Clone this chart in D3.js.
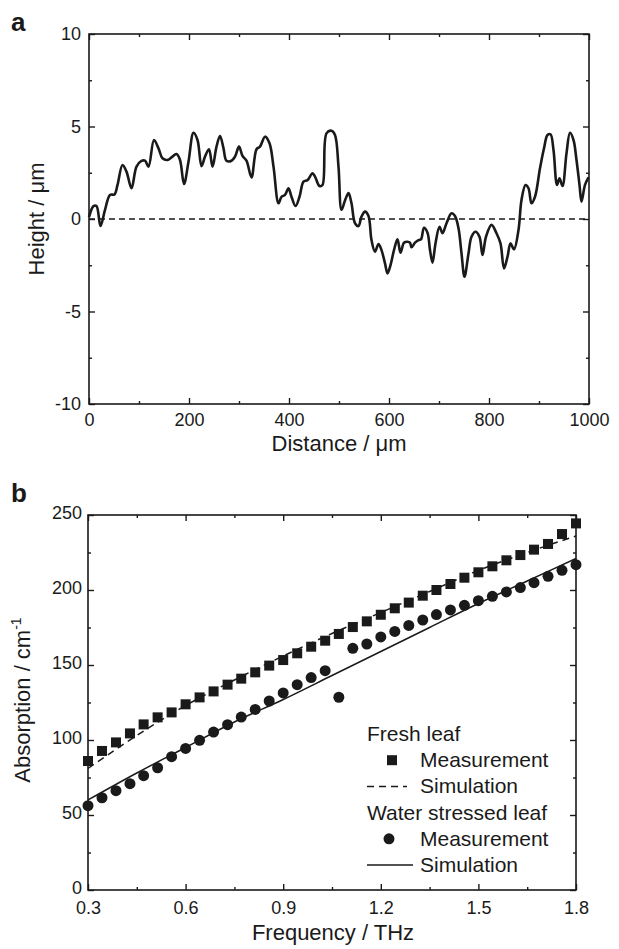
<!DOCTYPE html>
<html><head><meta charset="utf-8">
<script src="https://cdn.jsdelivr.net/npm/d3@7"></script>
<style>
body{margin:0;background:#fff;}
text{font-family:"Liberation Sans",Arial,Helvetica,sans-serif;fill:#1a1a1a;}
</style></head>
<body><svg id="c" width="619" height="949"></svg>
<script>
// ---------- Panel a data ----------
const distance = [0,9,15,23,32,42,51,57,67,75,85,95,105,112,119,130,139,147,157,165,175,182,190,199,209,217,225,232,240,247,255,262,269,275,285,292,300,307,315,325,335,342,352,361,369,379,385,392,399,405,413,421,429,437,447,452,461,467,475,485,492,499,505,512,519,525,532,539,545,552,559,565,572,579,585,592,597,603,610,617,623,630,637,642,645,652,659,664,670,677,682,687,693,701,707,715,725,732,739,745,751,759,765,773,781,787,794,805,815,823,830,837,843,850,859,865,873,879,885,892,902,910,917,923,929,936,941,947,955,962,969,975,981,985,992,999];
const height = [0.1,0.7,0.7,-0.38,0.49,1.3,1.33,1.84,2.92,2.56,1.66,2.83,3.14,3.15,2.83,4.27,3.82,3.28,3.19,3.33,3.51,3.19,1.89,3.1,4.66,4.27,2.86,3.37,3.77,2.83,3.91,4.49,3.82,3.15,3.15,3.37,3.91,3.41,3.15,2.25,3.77,3.91,4.45,4.09,2.83,0.85,1.2,1.3,1.66,1.2,0.7,1.2,2.02,2.1,2.47,2.29,1.78,1.84,4.63,4.77,4.54,2.83,0.5,1.0,1.4,0.85,-0.23,-0.38,0.13,0.4,0.16,-1.14,-1.77,-1.35,-1.68,-2.4,-2.94,-2.49,-1.68,-1.1,-1.82,-1.28,-1.23,-1.28,-1.53,-1.28,-1.14,-1.1,-0.47,-0.74,-1.68,-2.36,-1.32,-0.42,-0.77,-0.23,0.31,0.16,-0.5,-1.86,-3.12,-1.86,-0.96,-0.69,-0.96,-1.95,-0.96,-0.32,-0.77,-1.32,-2.67,-2.04,-1.32,-1.64,-0.59,1.03,1.84,1.66,0.85,1.2,2.74,3.82,4.54,4.58,3.73,1.84,2.2,1.78,3.55,4.66,4.27,3.19,1.84,0.94,1.84,2.25];
const aXTicks = [0,200,400,600,800,1000];
const aXMinor = [100,300,500,700,900];
const aYTicks = [-10,-5,0,5,10];
const aYMinor = [-7.5,-2.5,2.5,7.5];

// ---------- Panel b data ----------
const frequency = [0.3,0.343,0.386,0.429,0.471,0.514,0.557,0.6,0.643,0.686,0.729,0.771,0.814,0.857,0.9,0.943,0.986,1.029,1.071,1.114,1.157,1.2,1.243,1.286,1.329,1.371,1.414,1.457,1.5,1.543,1.586,1.629,1.671,1.714,1.757,1.8];
const freshMeas = [86,92.7,98.4,104.4,110.4,115.1,118.4,123.8,128.4,132.4,136.9,140.9,145.1,149.6,153.3,157.8,162.2,166.2,170.7,175.3,179.1,183.5,187.8,191.6,196.2,200,204,208.2,211.8,215.8,219.8,223.3,226.9,230.7,237.3,244.4];
const stressedMeas = [56.2,61.5,66.2,70.9,76.2,81.5,88.9,94.4,99.8,105.3,110.2,115.3,120.4,126,131.4,136.9,141.6,146.2,128.5,161.1,164,168.7,172.4,176.4,180,183.6,186.7,189.8,192.9,195.8,198.7,201.6,204.9,209.1,213.1,216.9];
const simFreq = [0.3,0.45,0.6,0.75,0.9,1.05,1.2,1.35,1.5,1.65,1.8];
const freshSim = [81,103,123,140,156,171,185,199,213,225,236];
const stressedSim = [60,78,95,112,127,143,159,175,191,206,221];
const bXTicks = [0.3,0.6,0.9,1.2,1.5,1.8];
const bXMinor = [0.45,0.75,1.05,1.35,1.65];
const bYTicks = [0,50,100,150,200,250];
const bYMinor = [25,75,125,175,225];
const legendGroups = ["Fresh leaf","Water stressed leaf"];
const legendItems = ["Measurement","Simulation"];

const svg = d3.select("#c");
const ink = "#1a1a1a";
const hyph = f => v => f(v).replace("\u2212","-");

function frame(g, x, y, xt, xm, yt, ym, xfmt, yfmt, ypad, xpad, ydy){
  const [x0,x1] = x.range(), [y0,y1] = y.range();
  g.append("g").attr("transform",`translate(0,${y0})`)
    .call(d3.axisBottom(x).tickValues(xt).tickSize(-6).tickPadding(xpad).tickFormat(xfmt));
  g.append("g").attr("transform",`translate(0,${y0})`)
    .call(d3.axisBottom(x).tickValues(xm).tickSize(-3).tickFormat(""));
  g.append("g").attr("transform",`translate(0,${y1})`)
    .call(d3.axisTop(x).tickValues(xt).tickSize(-6).tickFormat(""));
  g.append("g").attr("transform",`translate(0,${y1})`)
    .call(d3.axisTop(x).tickValues(xm).tickSize(-3).tickFormat(""));
  const yl = g.append("g").attr("transform",`translate(${x0},0)`)
    .call(d3.axisLeft(y).tickValues(yt).tickSize(-6).tickPadding(ypad).tickFormat(yfmt));
  yl.selectAll(".tick text").attr("dy",ydy);
  g.append("g").attr("transform",`translate(${x0},0)`)
    .call(d3.axisLeft(y).tickValues(ym).tickSize(-3).tickFormat(""));
  g.append("g").attr("transform",`translate(${x1},0)`)
    .call(d3.axisRight(y).tickValues(yt).tickSize(-6).tickFormat(""));
  g.append("g").attr("transform",`translate(${x1},0)`)
    .call(d3.axisRight(y).tickValues(ym).tickSize(-3).tickFormat(""));
  g.selectAll(".domain").remove();
  g.selectAll(".tick line").attr("stroke",ink).attr("stroke-width",1.4);
  g.selectAll(".tick text").attr("font-size","18px").attr("fill",ink)
    .attr("font-family",'"Liberation Sans",Arial,sans-serif');
  g.append("rect").attr("x",x0).attr("y",y1).attr("width",x1-x0).attr("height",y0-y1)
    .attr("fill","none").attr("stroke",ink).attr("stroke-width",1.6);
}

// ---------- Panel a ----------
const ax = d3.scaleLinear().domain([0,1000]).range([89,589]);
const ay = d3.scaleLinear().domain([-10,10]).range([404,34]);
const ga = svg.append("g");
ga.append("line").attr("x1",ax(0)).attr("x2",ax(1000)).attr("y1",ay(0)).attr("y2",ay(0))
  .attr("stroke",ink).attr("stroke-width",1.5).attr("stroke-dasharray","6,4");
ga.append("path").datum(distance.map((d,i)=>[d,height[i]]))
  .attr("fill","none").attr("stroke",ink).attr("stroke-width",2.6).attr("stroke-linejoin","round")
  .attr("d",d3.line().x(d=>ax(d[0])).y(d=>ay(d[1])).curve(d3.curveCatmullRom.alpha(0.5)));
frame(ga, ax, ay, aXTicks, aXMinor, aYTicks, aYMinor, hyph(d3.format("d")), hyph(d3.format("d")), 8, 9, "0.32em");
ga.append("text").attr("x",339).attr("y",451).attr("text-anchor","middle").attr("font-size","22px").text("Distance / μm");
ga.append("text").attr("transform","translate(44,219) rotate(-90)").attr("text-anchor","middle").attr("font-size","22px").text("Height / μm");
ga.append("text").attr("x",11).attr("y",31).attr("font-size","26px").attr("font-weight","bold").text("a");

// ---------- Panel b ----------
const bx = d3.scaleLinear().domain([0.3,1.8]).range([88,576]);
const by = d3.scaleLinear().domain([0,250]).range([890,515]);
const gb = svg.append("g");
const pl = gb.append("g");
pl.append("path").datum(simFreq.map((d,i)=>[d,freshSim[i]]))
  .attr("fill","none").attr("stroke",ink).attr("stroke-width",1.5).attr("stroke-dasharray","7,5")
  .attr("d",d3.line().x(d=>bx(d[0])).y(d=>by(d[1])).curve(d3.curveMonotoneX));
pl.append("path").datum(simFreq.map((d,i)=>[d,stressedSim[i]]))
  .attr("fill","none").attr("stroke",ink).attr("stroke-width",1.5)
  .attr("d",d3.line().x(d=>bx(d[0])).y(d=>by(d[1])).curve(d3.curveMonotoneX));
pl.selectAll("rect.sq").data(frequency.map((d,i)=>[d,freshMeas[i]])).enter().append("rect")
  .attr("x",d=>bx(d[0])-5).attr("y",d=>by(d[1])-5).attr("width",10).attr("height",10).attr("fill",ink);
pl.selectAll("circle.ci").data(frequency.map((d,i)=>[d,stressedMeas[i]])).enter().append("circle")
  .attr("cx",d=>bx(d[0])).attr("cy",d=>by(d[1])).attr("r",5.5).attr("fill",ink);
frame(gb, bx, by, bXTicks, bXMinor, bYTicks, bYMinor, d3.format(".1f"), d3.format("d"), 6, 11, "0.18em");
gb.append("text").attr("x",333).attr("y",940).attr("text-anchor","middle").attr("font-size","22px").text("Frequency / THz");
const yt = gb.append("text").attr("transform","translate(30,700) rotate(-90)").attr("text-anchor","middle").attr("font-size","22px");
yt.append("tspan").text("Absorption / cm");
yt.append("tspan").attr("font-size","14px").attr("dy","-9").text("-1");
gb.append("text").attr("x",11).attr("y",502).attr("font-size","26px").attr("font-weight","bold").text("b");

// legend
const lg = gb.append("g");
const lx = 367, ty = 741, dy = 26.2;
lg.append("text").attr("x",lx).attr("y",ty).attr("font-size","21px").text(legendGroups[0]);
lg.append("rect").attr("x",lx+20).attr("y",ty+dy-12).attr("width",10).attr("height",10).attr("fill",ink);
lg.append("text").attr("x",420).attr("y",ty+dy).attr("font-size","21px").text(legendItems[0]);
lg.append("line").attr("x1",lx).attr("x2",lx+40).attr("y1",ty+2*dy-7).attr("y2",ty+2*dy-7)
  .attr("stroke",ink).attr("stroke-width",1.5).attr("stroke-dasharray","7,5");
lg.append("text").attr("x",420).attr("y",ty+2*dy).attr("font-size","21px").text(legendItems[1]);
lg.append("text").attr("x",lx).attr("y",ty+3*dy).attr("font-size","21px").text(legendGroups[1]);
lg.append("circle").attr("cx",lx+22).attr("cy",ty+4*dy-7).attr("r",5.5).attr("fill",ink);
lg.append("text").attr("x",420).attr("y",ty+4*dy).attr("font-size","21px").text(legendItems[0]);
lg.append("line").attr("x1",lx).attr("x2",lx+46).attr("y1",ty+5*dy-7).attr("y2",ty+5*dy-7)
  .attr("stroke",ink).attr("stroke-width",1.5);
lg.append("text").attr("x",420).attr("y",ty+5*dy).attr("font-size","21px").text(legendItems[1]);
</script></body></html>
